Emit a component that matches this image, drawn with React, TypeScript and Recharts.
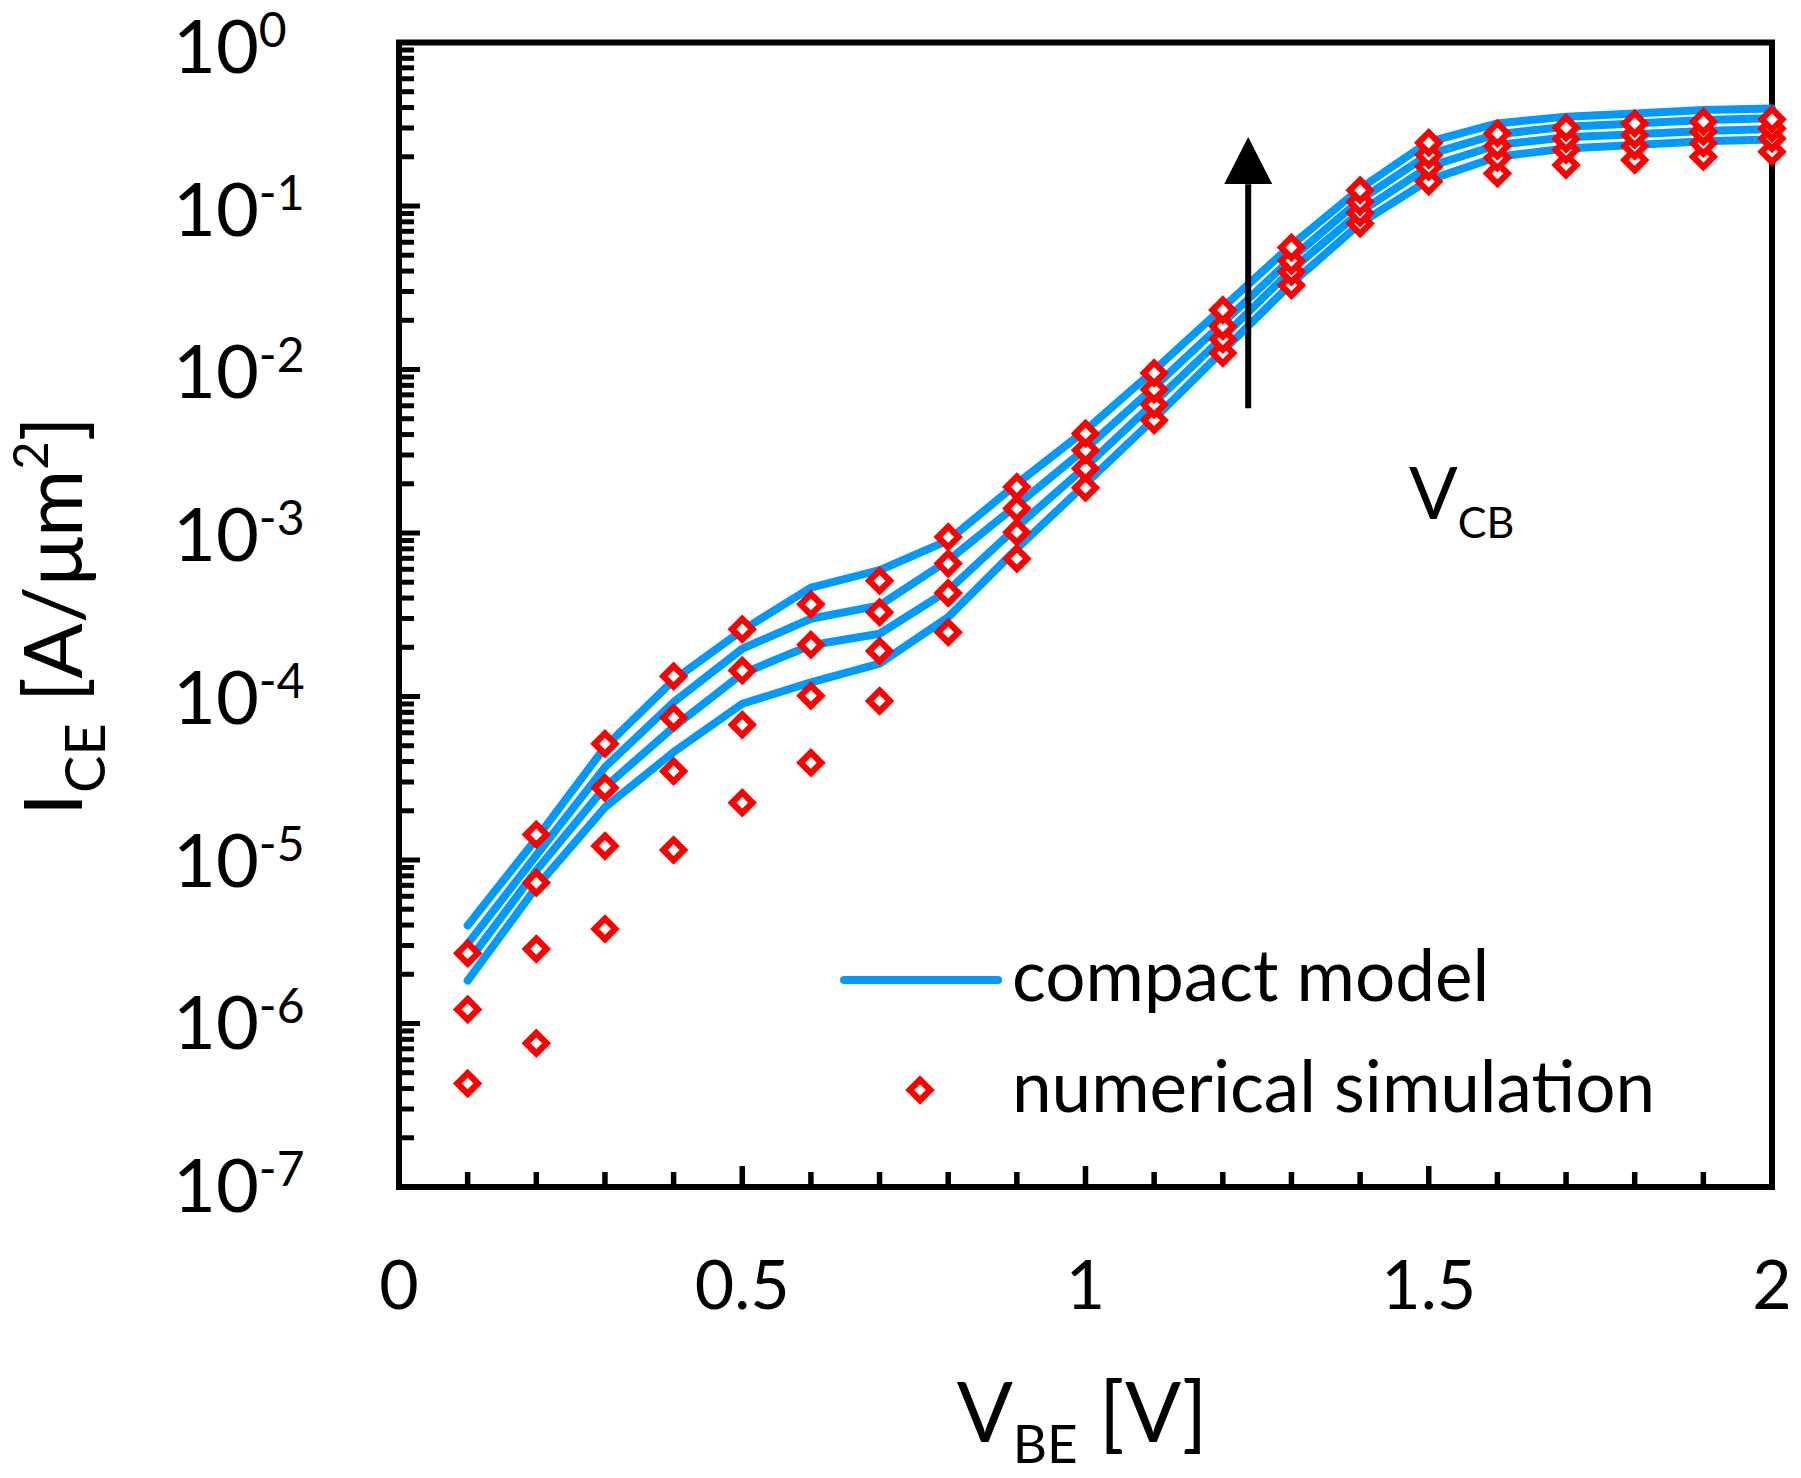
import {
  ComposedChart,
  Line,
  Scatter,
  XAxis,
  YAxis,
  ReferenceArea,
  ReferenceLine,
  ReferenceDot,
} from "recharts";

// V_BE sweep [V]
const vbe = [0.1, 0.2, 0.3, 0.4, 0.5, 0.6, 0.7, 0.8, 0.9, 1.0, 1.1, 1.2, 1.3, 1.4, 1.5, 1.6, 1.7, 1.8, 1.9, 2.0];

// compact model, I_CE [A/um^2], lowest V_CB first
const model1 = [1.83e-6, 6.82e-6, 2.1e-5, 4.57e-5, 9.03e-5, 1.22e-4, 1.59e-4, 3.06e-4, 8.02e-4, 2.0e-3, 5.01e-3, 1.3e-2, 3.36e-2, 0.0782, 0.144, 0.2, 0.225, 0.236, 0.249, 0.255];
const model2 = [2.37e-6, 8.63e-6, 2.79e-5, 6.5e-5, 1.38e-4, 2.06e-4, 2.42e-4, 4.46e-4, 1.09e-3, 2.54e-3, 6.28e-3, 1.58e-2, 4.06e-2, 0.092, 0.174, 0.236, 0.263, 0.275, 0.288, 0.296];
const model3 = [3.07e-6, 1.07e-5, 3.7e-5, 9.25e-5, 1.96e-4, 2.99e-4, 3.61e-4, 6.81e-4, 1.48e-3, 3.28e-3, 7.82e-3, 1.93e-2, 4.78e-2, 0.109, 0.207, 0.275, 0.305, 0.32, 0.336, 0.344];
const model4 = [3.98e-6, 1.35e-5, 4.9e-5, 1.26e-4, 2.54e-4, 4.63e-4, 5.92e-4, 9.02e-4, 2.0e-3, 4.25e-3, 9.91e-3, 2.39e-2, 5.77e-2, 0.128, 0.247, 0.32, 0.352, 0.368, 0.386, 0.395];

// numerical simulation (null = below the axis range)
const sim1 = [null, 7.57e-7, 3.79e-6, 1.15e-5, 2.24e-5, 3.93e-5, 9.4e-5, 2.47e-4, 6.97e-4, 1.89e-3, 4.89e-3, 1.26e-2, 3.28e-2, 0.0782, 0.141, 0.158, 0.178, 0.191, 0.2, 0.215];
const sim2 = [4.3e-7, 2.86e-6, 1.22e-5, 3.49e-5, 6.71e-5, 1.01e-4, 1.9e-4, 4.3e-4, 1.01e-3, 2.48e-3, 6.1e-3, 1.53e-2, 3.96e-2, 0.0909, 0.174, 0.197, 0.22, 0.233, 0.242, 0.259];
const sim3 = [1.22e-6, 7.25e-6, 2.77e-5, 7.41e-5, 1.44e-4, 2.07e-4, 3.28e-4, 6.5e-4, 1.41e-3, 3.21e-3, 7.54e-3, 1.84e-2, 4.62e-2, 0.106, 0.205, 0.233, 0.257, 0.272, 0.285, 0.298];
const sim4 = [2.69e-6, 1.43e-5, 5.14e-5, 1.33e-4, 2.58e-4, 3.66e-4, 5.1e-4, 9.45e-4, 1.91e-3, 4.06e-3, 9.53e-3, 2.31e-2, 5.58e-2, 0.125, 0.244, 0.278, 0.301, 0.32, 0.328, 0.339];

const xTicks = [0, 0.1, 0.2, 0.3, 0.4, 0.5, 0.6, 0.7, 0.8, 0.9, 1, 1.1, 1.2, 1.3, 1.4, 1.5, 1.6, 1.7, 1.8, 1.9, 2];
const decades = [-7, -6, -5, -4, -3, -2, -1];
const mantissas = [1, 2, 3, 4, 5, 6, 7, 8, 9];

const yTicks = [...decades.flatMap((d) => mantissas.map((m) => m * Math.pow(10, d))), 1];

const BLUE = "#0099ff";
const RED = "#ff0000";
const FONT = "Lato";

const rows = vbe.map((v, i) => ({
  v,
  m1: model1[i],
  m2: model2[i],
  m3: model3[i],
  m4: model4[i],
}));

const simPoints = (arr: (number | null)[]) =>
  vbe.map((v, i) => ({ v, y: arr[i] })).filter((p) => p.y != null);

const Diamond = (props: any) => {
  const { cx, cy } = props;
  const r = 10.3;
  return (
    <polygon
      points={`${cx},${cy - r} ${cx + r},${cy} ${cx},${cy + r} ${cx - r},${cy}`}
      fill="#fff"
      stroke={RED}
      strokeWidth={6.3}
    />
  );
};

const isDecade = (v: number) => {
  const l = Math.log10(v);
  return Math.abs(l - Math.round(l)) < 1e-6;
};

const yTick = (side: "left" | "right") => (props: any) => {
  const { x, y, payload } = props;
  const v = payload.value;
  const major = isDecade(v);
  const len = major ? 21 : 15;
  const dir = side === "left" ? 1 : -1;
  const exp = Math.round(Math.log10(v));
  // labels drift up a little relative to the ticks further down the axis
  const base = y + 30.5 + 0.8 * exp;
  return (
    <g>
      <line x1={x} x2={x + dir * len} y1={y} y2={y} stroke="#000" strokeWidth={5} />
      {side === "left" && major && (
        <text x={x - 226} y={base} fontFamily={FONT} fontSize={74} fill="#000">
          10
          <tspan dy={-26} fontSize={48}>{`${exp}`}</tspan>
        </text>
      )}
    </g>
  );
};

const xTick = (side: "bottom" | "top") => (props: any) => {
  const { x, y, payload } = props;
  const v = payload.value;
  const major = Math.abs(v * 2 - Math.round(v * 2)) < 1e-6;
  const len = major ? 21 : 15;
  const dir = side === "bottom" ? -1 : 1;
  return (
    <g>
      <line x1={x} x2={x} y1={y} y2={y + dir * len} stroke="#000" strokeWidth={5.5} />
      {side === "bottom" && major && (
        <text x={x} y={y + 122} textAnchor="middle" fontFamily={FONT} fontSize={68} fill="#000">
          {String(v)}
        </text>
      )}
    </g>
  );
};

const ArrowHead = (props: any) => {
  const { cx, cy } = props;
  return <polygon points={`${cx},${cy} ${cx - 24},${cy + 47} ${cx + 24},${cy + 47}`} fill="#000" />;
};

export default function App() {
  return (
    <div style={{ position: "absolute", left: 0, top: 0, width: 1801, height: 1478, background: "#fff" }}>
      <ComposedChart
        width={1801}
        height={1478}
        data={rows}
        margin={{ top: 42.5, right: 29, bottom: 0, left: 0 }}
        style={{ fontFamily: FONT }}
      >
        <XAxis
          dataKey="v"
          type="number"
          domain={[0, 2]}
          ticks={xTicks}
          interval={0}
          height={291}
          axisLine={false}
          tickLine={false}
          tickSize={0}
          tickMargin={0}
          tick={xTick("bottom")}
        />
        <XAxis
          xAxisId="top"
          orientation="top"
          dataKey="v"
          type="number"
          domain={[0, 2]}
          allowDataOverflow
          ticks={xTicks}
          interval={0}
          height={0}
          axisLine={false}
          tickLine={false}
          tickSize={0}
          tickMargin={0}
          tick={xTick("top")}
        />
        <YAxis
          type="number"
          scale="log"
          domain={[1e-7, 1]}
          ticks={yTicks}
          interval={0}
          width={399}
          axisLine={false}
          tickLine={false}
          tickSize={0}
          tickMargin={0}
          tick={yTick("left")}
        />
        <YAxis
          yAxisId="right"
          orientation="right"
          type="number"
          scale="log"
          domain={[1e-7, 1]}
          allowDataOverflow
          ticks={yTicks}
          interval={0}
          width={0}
          axisLine={false}
          tickLine={false}
          tickSize={0}
          tickMargin={0}
          tick={yTick("right")}
        />

        <ReferenceArea x1={0} x2={2} y1={1e-7} y2={1} fill="none" stroke="#000" strokeWidth={6} />

        <Line type="linear" dataKey="m1" stroke={BLUE} strokeWidth={8} strokeLinecap="round" strokeLinejoin="round" dot={false} activeDot={false} isAnimationActive={false} />
        <Line type="linear" dataKey="m2" stroke={BLUE} strokeWidth={8} strokeLinecap="round" strokeLinejoin="round" dot={false} activeDot={false} isAnimationActive={false} />
        <Line type="linear" dataKey="m3" stroke={BLUE} strokeWidth={8} strokeLinecap="round" strokeLinejoin="round" dot={false} activeDot={false} isAnimationActive={false} />
        <Line type="linear" dataKey="m4" stroke={BLUE} strokeWidth={8} strokeLinecap="round" strokeLinejoin="round" dot={false} activeDot={false} isAnimationActive={false} />

        <Scatter data={simPoints(sim1)} dataKey="y" shape={Diamond} isAnimationActive={false} />
        <Scatter data={simPoints(sim2)} dataKey="y" shape={Diamond} isAnimationActive={false} />
        <Scatter data={simPoints(sim3)} dataKey="y" shape={Diamond} isAnimationActive={false} />
        <Scatter data={simPoints(sim4)} dataKey="y" shape={Diamond} isAnimationActive={false} />

        <ReferenceLine
          segment={[
            { x: 1.237, y: 0.136 },
            { x: 1.237, y: 5.8e-3 },
          ]}
          stroke="#000"
          strokeWidth={6}
        />
        <ReferenceDot x={1.237} y={0.264} r={1} shape={ArrowHead} />

        {/* V_CB annotation */}
        <text x={1409} y={519} fontFamily={FONT} fontSize={72} fill="#000">
          V<tspan dy={19} fontSize={43}>CB</tspan>
        </text>

        {/* legend */}
        <line x1={844} x2={998} y1={980} y2={980} stroke={BLUE} strokeWidth={8} strokeLinecap="round" />
        <text x={1012} y={1001} fontFamily={FONT} fontSize={71} fill="#000">
          compact model
        </text>
        <polygon points="920,1079.7 930.3,1090 920,1100.3 909.7,1090" fill="#fff" stroke={RED} strokeWidth={6.3} />
        <text x={1012} y={1112} fontFamily={FONT} fontSize={71} fill="#000">
          numerical simulation
        </text>

        {/* axis titles */}
        <text x={1082} y={1442} textAnchor="middle" fontFamily={FONT} fontSize={83} fill="#000">
          V<tspan dy={21} fontSize={53}>BE</tspan>
          <tspan dy={-21} fontSize={83}>{" [V]"}</tspan>
        </text>
        <text transform="translate(82,616) rotate(-90)" textAnchor="middle" fontFamily={FONT} fontSize={82} fill="#000">
          I<tspan dy={23} fontSize={56}>CE</tspan>
          <tspan dy={-23} fontSize={82}>{" [A/μm"}</tspan>
          <tspan dy={-34} fontSize={49}>2</tspan>
          <tspan dy={34} fontSize={82}>]</tspan>
        </text>
      </ComposedChart>
    </div>
  );
}
